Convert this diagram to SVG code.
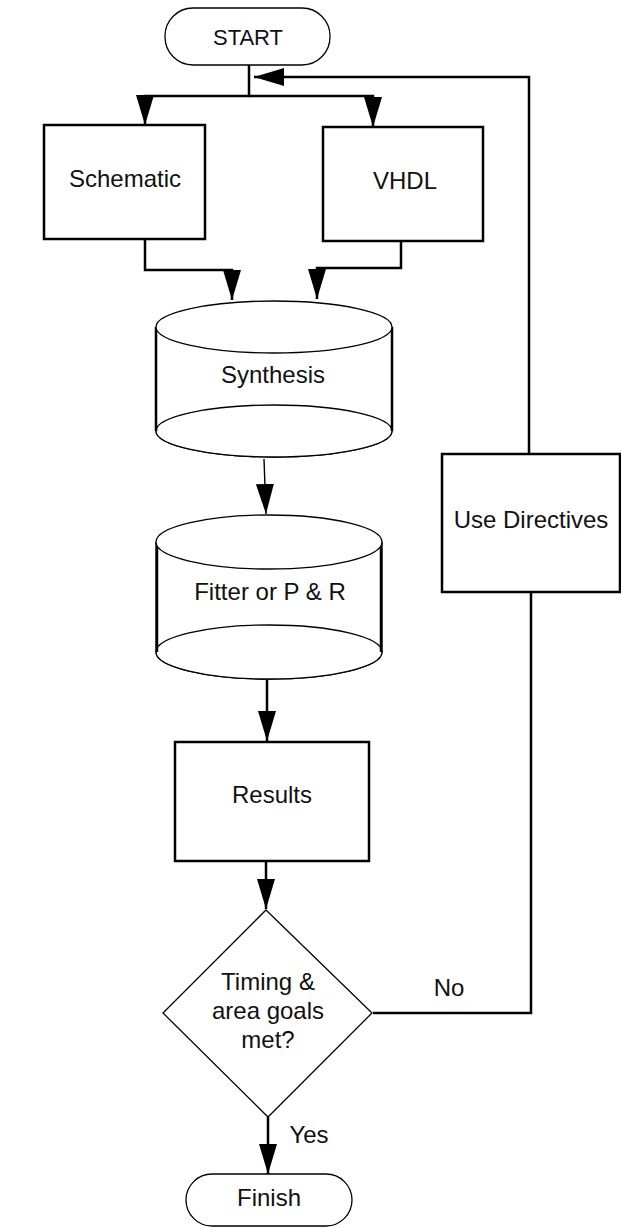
<svg xmlns="http://www.w3.org/2000/svg" width="621" height="1228" viewBox="0 0 621 1228">
<style>
text{font-family:"Liberation Sans",Arial,sans-serif;font-size:24px;fill:#111;text-anchor:middle}
.box{fill:#fff;stroke:#000;stroke-width:2.5}
.thin{fill:#fff;stroke:#000;stroke-width:1.3}
.con{fill:none;stroke:#000;stroke-width:2.5}
</style>
<defs>
<marker id="ah" markerUnits="userSpaceOnUse" markerWidth="30" markerHeight="18" refX="30" refY="9" orient="auto">
<path d="M0,0 L30,9 L0,18 z" fill="#000"/>
</marker>
</defs>
<rect width="621" height="1228" fill="#fff"/>
<g id="connectors">
<path class="con" d="M249,65 V96 H145 V125" marker-end="url(#ah)"/>
<path class="con" d="M249,96 H373 V127" marker-end="url(#ah)"/>
<path class="con" d="M145,239 V270 H232 V300" marker-end="url(#ah)"/>
<path class="con" d="M401,241 V268 H317 V299" marker-end="url(#ah)"/>
<path class="con" style="stroke-width:1.4" d="M264,459 L266,514" marker-end="url(#ah)"/>
<path class="con" d="M267,680 V741" marker-end="url(#ah)"/>
<path class="con" d="M266,861 V909" marker-end="url(#ah)"/>
<path class="con" d="M268,1117 V1174" marker-end="url(#ah)"/>
<path class="con" d="M373,1013 H531 V592"/>
<path class="con" d="M529,454 V77 H254" marker-end="url(#ah)"/>
<text x="449" y="996">No</text>
<text x="309" y="1143">Yes</text>
</g>
<g id="start">
<rect class="thin" x="165" y="8" width="165" height="57" rx="28"/>
<text x="248" y="45" style="font-size:22px">START</text>
</g>
<g id="schematic">
<rect class="box" x="44" y="125" width="161" height="114"/>
<text x="125" y="187">Schematic</text>
</g>
<g id="vhdl">
<rect class="box" x="323" y="127" width="160" height="114"/>
<text x="405" y="189">VHDL</text>
</g>
<g id="synthesis">
<path class="thin" d="M156,327 V431 A118,26 0 0 0 392,431 V327"/>
<ellipse class="thin" cx="274" cy="431" rx="118" ry="26"/>
<path d="M156,327 V431 M392,327 V431" stroke="#000" stroke-width="2.5"/>
<ellipse class="thin" cx="274" cy="327" rx="118" ry="26"/>
<text x="273" y="383">Synthesis</text>
</g>
<g id="fitter">
<path class="thin" d="M156,542 V652 A113,27 0 0 0 382,652 V542"/>
<ellipse class="thin" cx="269" cy="652" rx="113" ry="27"/>
<path d="M157,542 V652 M381,542 V652" stroke="#000" stroke-width="2.5"/>
<ellipse class="thin" cx="269" cy="542" rx="113" ry="27"/>
<text x="270" y="600">Fitter or P &amp; R</text>
</g>
<g id="results">
<rect class="box" x="175" y="742" width="194" height="119"/>
<text x="272" y="803">Results</text>
</g>
<g id="decision">
<polygon class="thin" points="266,910 372,1013 268,1117 163,1013"/>
<text x="268" y="990">Timing &amp;</text>
<text x="268" y="1019">area goals</text>
<text x="268" y="1048">met?</text>
</g>
<g id="directives">
<rect class="box" x="442" y="454" width="178" height="138"/>
<text x="531" y="528">Use Directives</text>
</g>
<g id="finish">
<rect class="thin" x="186" y="1174" width="166" height="52" rx="26"/>
<text x="269" y="1206">Finish</text>
</g>
</svg>
